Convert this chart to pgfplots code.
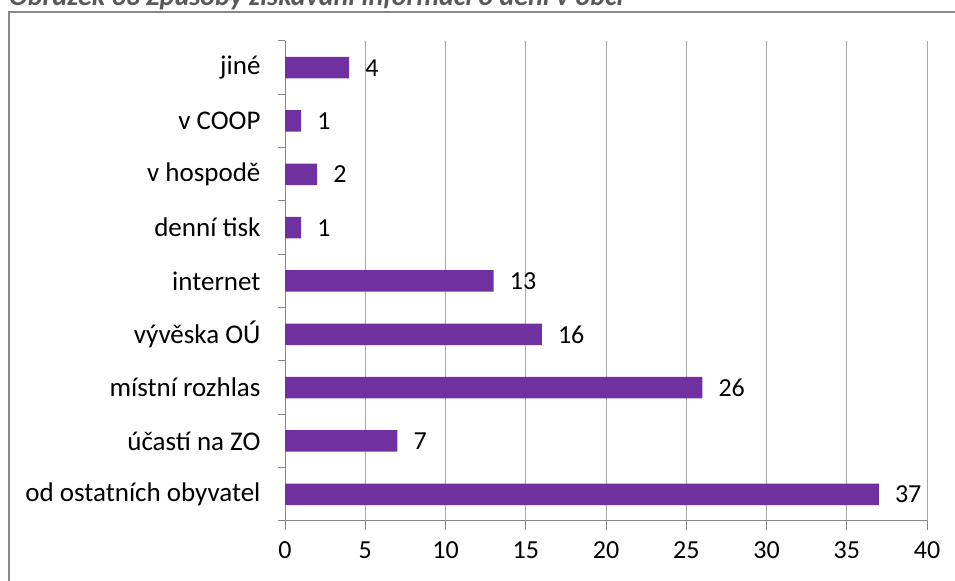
\documentclass[border=0pt]{standalone}
\usepackage{fontspec}
\setmainfont{Carlito}
\usepackage{pgfplots}
\pgfplotsset{compat=1.18}
\definecolor{barpurple}{HTML}{7030A0}
\definecolor{gridgray}{HTML}{A6A6A6}
\definecolor{axisgray}{HTML}{868686}
\definecolor{framegray}{HTML}{888888}
\definecolor{titlegray}{HTML}{595959}
\begin{document}
\begin{tikzpicture}[x=1bp,y=1bp]
\useasboundingbox (0,0) rectangle (955,581);
\draw[framegray, line width=2bp] (8.5,-20) rectangle (980,568.5);
\node[anchor=base west, inner sep=0, text=titlegray, font=\fontsize{28bp}{32bp}\selectfont\bfseries\itshape] at (9,575) {Obrázek 33 Způsoby získávání informací o dění v obci};
\begin{axis}[
  at={(285bp,60bp)}, anchor=south west,
  scale only axis, width=642bp, height=480bp,
  xbar, bar width=21.5bp,
  xmin=0, xmax=40, ymin=-0.5, ymax=8.5,
  xtick={0,5,...,40},
  ytick={0,...,8},
  yticklabels={od ostatních obyvatel, účastí na ZO, místní rozhlas, vývěska OÚ, internet, denní tisk, v hospodě, v COOP, jiné},
  minor ytick={-0.5,0.5,...,8.5},
  axis lines*=left,
  axis line style={axisgray, line width=1bp},
  xmajorgrids, grid style={gridgray, line width=1bp},
  tick align=outside,
  major tick length=9bp, minor tick length=7bp,
  major x tick style={axisgray, line width=1bp},
  major y tick style={draw=none},
  minor y tick style={axisgray, line width=1bp},
  every tick label/.append style={font=\fontsize{26bp}{30bp}\selectfont, text=black},
  /pgf/number format/assume math mode=true,
  yticklabel style={xshift=-12bp, font=\fontsize{27bp}{31bp}\selectfont},
  xticklabel style={yshift=-8bp},
  nodes near coords,
  nodes near coords style={font=\fontsize{26bp}{30bp}\selectfont, anchor=west, inner sep=0pt, xshift=16bp, text=black},
]
\addplot[fill=barpurple, draw=none] coordinates {(37,0) (7,1) (26,2) (16,3) (13,4) (1,5) (2,6) (1,7) (4,8)};
\end{axis}
\end{tikzpicture}
\end{document}
